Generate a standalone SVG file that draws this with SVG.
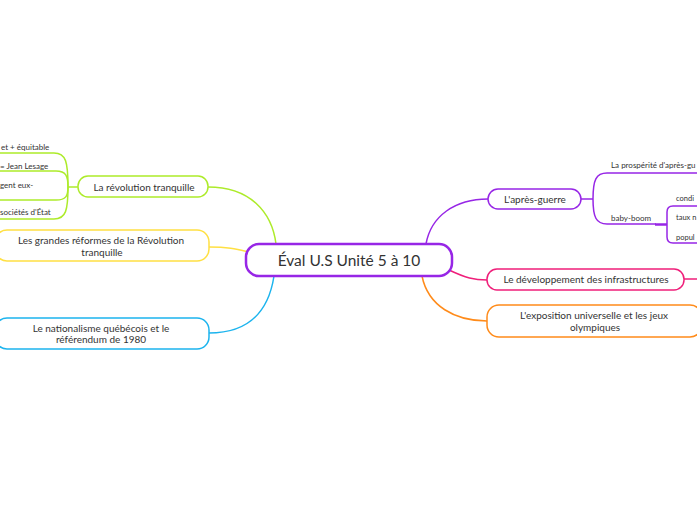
<svg xmlns="http://www.w3.org/2000/svg" width="697" height="520" viewBox="0 0 697 520">
<style>
text{font-family:Lato,"Open Sans","Liberation Sans",sans-serif;fill:#333;}
.t{font-size:10px;text-anchor:middle;}
.s{font-size:8px;}
.r{font-size:7.5px;}
.n{fill:#fff;stroke-width:1.5;}
.c{fill:none;stroke-width:1.5;}
.g{stroke:#adeb2a;}
.y{stroke:#ffe043;}
.b{stroke:#1cb4ee;}
.p{stroke:#9726e6;}
.k{stroke:#ef1f7a;}
.o{stroke:#ff8b1a;}
</style>
<rect width="697" height="520" fill="#fff"/>
<g id="connectors">
<path class="c g" d="M208,187 C250,187 272,212 276,244"/>
<path class="c y" d="M209,247 C228,247 236,249 249,252"/>
<path class="c b" d="M274,276 C268,315 245,333 209,333"/>
<path class="c p" d="M426,244 C431,216 455,199 488,199"/>
<path class="c k" d="M449,270 C466,278 474,280 487,280"/>
<path class="c o" d="M422,276 C428,306 455,321 487,321"/>
<path class="c g" d="M78,187 L68,187"/>
<path class="c g" d="M68,187 C68,162 66,153 54,153 L0,153"/>
<path class="c g" d="M68,187 C68,176 66,171 56,171 L0,171"/>
<path class="c g" d="M68,187 C68,196 66,200 56,200 L0,200"/>
<path class="c g" d="M68,187 C68,210 66,219 54,219 L0,219"/>
<path class="c p" d="M581,199 L593,199"/>
<path class="c p" d="M593,199 C593,180 596,173 607,173 L697,173"/>
<path class="c p" d="M593,199 C593,217 596,224 607,224 L656,224"/>
<path class="p" fill="none" stroke-width="2.5" d="M655,224.5 L667,224.5"/>
<path class="c p" d="M697,206 L673,206 Q667,206 667,212 L667,237 Q667,243 673,243 L697,243"/>
<path class="c k" d="M684,279 L697,279"/>
</g>
<g id="central">
<rect x="246" y="244" width="206" height="32" rx="13" fill="#fff" stroke="#9726e6" stroke-width="2.5"/>
<text x="349" y="266" font-size="15.5" text-anchor="middle">Éval U.S Unité 5 à 10</text>
</g>
<g id="revolution">
<rect class="n g" x="78" y="176" width="130" height="21" rx="10"/>
<text class="t" x="144" y="190.5">La révolution tranquille</text>
</g>
<g id="rev-sub1"><text class="s" x="1" y="149.5">et + équitable</text></g>
<g id="rev-sub2"><text class="s" x="0" y="168.5">= Jean Lesage</text></g>
<g id="rev-sub3"><text class="s" x="0" y="187.5">gent eux-</text></g>
<g id="rev-sub4"><text class="s" x="0" y="215">sociétés d'État</text></g>
<g id="reformes">
<rect class="n y" x="-5" y="230" width="214" height="31" rx="12"/>
<text class="t" x="101" y="244">Les grandes réformes de la Révolution</text>
<text class="t" x="102" y="255.5">tranquille</text>
</g>
<g id="nationalisme">
<rect class="n b" x="-5" y="318" width="214" height="31" rx="12"/>
<text class="t" x="101" y="331.5">Le nationalisme québécois et le</text>
<text class="t" x="101" y="343">référendum de 1980</text>
</g>
<g id="apres-guerre">
<rect class="n p" x="488" y="189" width="93" height="20" rx="10"/>
<text class="t" x="535" y="202.5">L'après-guerre</text>
</g>
<g id="prosperite"><text class="s" x="611" y="168">La prospérité d'après-gu</text></g>
<g id="baby-boom"><text class="s" x="611" y="220.5">baby-boom</text></g>
<g id="conditions"><text class="r" x="676" y="201">condi</text></g>
<g id="taux"><text class="r" x="676" y="220">taux n</text></g>
<g id="population"><text class="r" x="676" y="239.5">popul</text></g>
<g id="infrastructures">
<rect class="n k" x="487" y="269" width="197" height="21" rx="10"/>
<text class="t" x="586" y="283">Le développement des infrastructures</text>
</g>
<g id="exposition">
<rect class="n o" x="487" y="305" width="215" height="32" rx="12"/>
<text class="t" x="594" y="319">L'exposition universelle et les jeux</text>
<text class="t" x="595" y="330.5">olympiques</text>
</g>
</svg>
